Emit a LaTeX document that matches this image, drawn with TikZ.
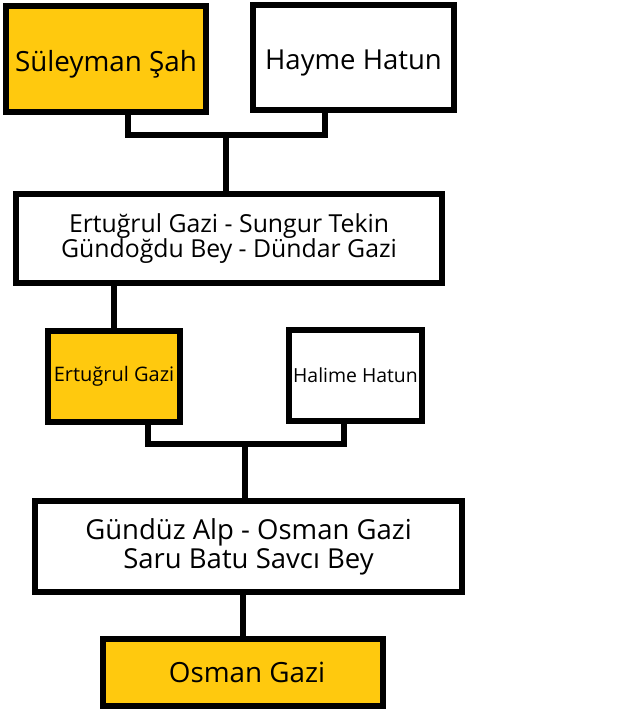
\documentclass[tikz,border=0pt]{standalone}
\usepackage{fontspec}
\setmainfont{Open Sans}
\definecolor{sari}{HTML}{FFC90E}
\tikzset{
    kutu/.style={draw=black, line width=6pt, rectangle, inner sep=0pt, align=center},
    bag/.style={line width=6pt}
}
\begin{document}
\begin{tikzpicture}[x=1pt,y=-1pt]
        \useasboundingbox (0,0) rectangle (635,712);
        % Birinci kusak
        \node[kutu, fill=sari, minimum width=200pt, minimum height=106pt, text height=31pt, text depth=7pt, font=\fontsize{27.8}{32}\selectfont] (suleyman) at (106,59) {Süleyman Şah};
        \node[kutu, fill=white, minimum width=201pt, minimum height=105pt, text height=31pt, text depth=7pt, font=\fontsize{27.5}{32}\selectfont] (hayme) at (353.5,57.5) {Hayme Hatun};
        % Ikinci kusak
        \node[kutu, fill=white, minimum width=426pt, minimum height=89pt, font=\fontsize{24.8}{25.5}\selectfont] (kardes1) at (229,238.5) {Ertuğrul Gazi - Sungur Tekin\\Gündoğdu Bey - Dündar Gazi};
        \node[kutu, fill=sari, minimum width=132pt, minimum height=91pt, font=\fontsize{20}{22}\selectfont] (ertugrul) at (114,376.5) {Ertuğrul Gazi};
        \node[kutu, fill=white, minimum width=133pt, minimum height=91pt, font=\fontsize{19.4}{22}\selectfont] (halime) at (355.5,375.5) {Halime Hatun};
        % Ucuncu kusak
        \node[kutu, fill=white, minimum width=427pt, minimum height=91pt, font=\fontsize{27.5}{29}\selectfont] (kardes2) at (248.5,546.5) {Gündüz Alp - Osman Gazi\\Saru Batu Savcı Bey};
        \node[kutu, fill=sari, minimum width=280pt, minimum height=67pt, font=\fontsize{27.8}{30}\selectfont] (osman) at (243,672.5) {\hspace*{8pt}Osman Gazi};
        % Baglar
        \coordinate (j1) at (226,135);
        \coordinate (j2) at (245,444);
        \draw[bag] ([xshift=22pt]suleyman.south) |- (j1) -| ([xshift=-28.5pt]hayme.south);
        \draw[bag] (j1) -- (j1 |- kardes1.north);
        \draw[bag] (ertugrul.north) -- (ertugrul.north |- kardes1.south);
        \draw[bag] ([xshift=34pt]ertugrul.south) |- (j2) -| ([xshift=-11.5pt]halime.south);
        \draw[bag] (j2) -- (j2 |- kardes2.north);
        \draw[bag] (osman.north) -- (osman.north |- kardes2.south);
    \end{tikzpicture}
\end{document}
